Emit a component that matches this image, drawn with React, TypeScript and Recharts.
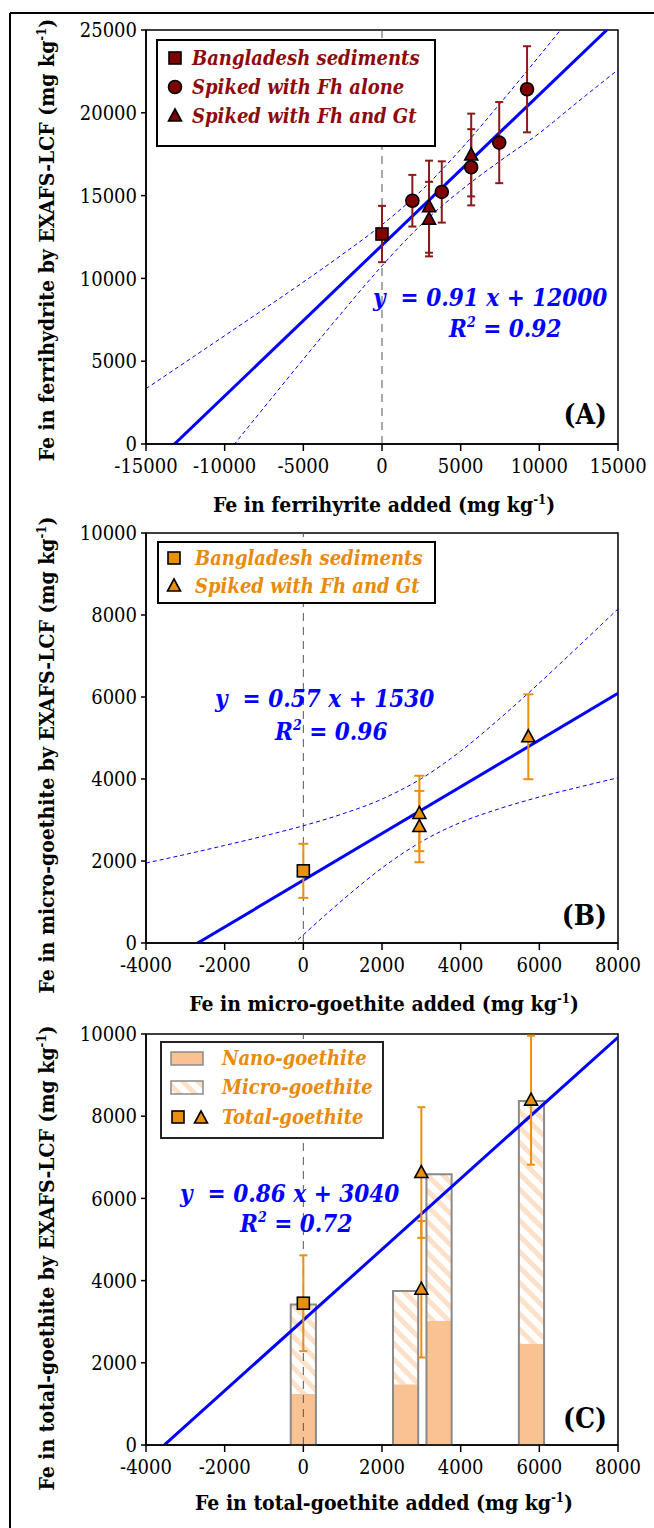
import React from 'react';
import {
  ComposedChart,
  XAxis,
  YAxis,
  Scatter,
  Line,
  ErrorBar,
  ReferenceLine,
  ReferenceArea,
} from 'recharts';

const SERIF = 'DejaVu Serif Condensed';

// ---------- Panel A: ferrihydrite ----------
const aXTicks = [-15000, -10000, -5000, 0, 5000, 10000, 15000];
const aYTicks = [0, 5000, 10000, 15000, 20000, 25000];
const aSedX = [0];
const aSedY = [12680];
const aSedErr = [1700];
const aFhX = [1930, 3800, 5670, 7450, 9220];
const aFhY = [14690, 15220, 16710, 18200, 21420];
const aFhErr = [1560, 1850, 2300, 2450, 2600];
const aFhGtX = [2990, 2990, 5670];
const aFhGtY = [14330, 13580, 17450];
const aFhGtErr = [2780, 2250, 2500];
const aSlope = 0.91;
const aIntercept = 12000;
const aBandX = [-15000, -12500, -10000, -7500, -5000, -2500, 0, 2500, 5000, 7500, 10000, 12500, 15000];
const aBandUpper = [3340, 4940, 6540, 8150, 9780, 11460, 13240, 15300, 17790, 20560, 23430, 26350, 29290];
const aBandLower = [-6640, -3690, -740, 2200, 5120, 7990, 10760, 13250, 15310, 17090, 18770, 20700, 22600];

// ---------- Panel B: micro-goethite ----------
const bXTicks = [-4000, -2000, 0, 2000, 4000, 6000, 8000];
const bYTicks = [0, 2000, 4000, 6000, 8000, 10000];
const bSedX = [0];
const bSedY = [1760];
const bSedErr = [660];
const bTriX = [2950, 2950, 5720];
const bTriY = [3160, 2840, 5030];
const bTriErr = [920, 870, 1035];
const bSlope = 0.57;
const bIntercept = 1530;
const bBandX = [-4000, -3000, -2000, -1000, 0, 1000, 2000, 3000, 4000, 5000, 6000, 7000, 8000];
const bBandUpper = [1950, 2160, 2380, 2610, 2860, 3150, 3510, 4010, 4680, 5480, 6340, 7240, 8150];
const bBandLower = [-3450, -2520, -1600, -690, 200, 1050, 1830, 2470, 2940, 3280, 3560, 3800, 4030];

// ---------- Panel C: total goethite ----------
const cXTicks = [-4000, -2000, 0, 2000, 4000, 6000, 8000];
const cYTicks = [0, 2000, 4000, 6000, 8000, 10000];
const cBarX = [0, 2600, 3450, 5800];
const cNano = [1250, 1480, 3020, 2460];
const cMicro = [2170, 2270, 3570, 5910];
const cSedX = [0];
const cSedY = [3450];
const cSedErr = [1165];
const cTriX = [3000, 3000, 5790];
const cTriY = [6630, 3790, 8390];
const cTriErr = [1590, 1660, 1570];
const cSlope = 0.86;
const cIntercept = 3040;

// half of a stacked column's width, in x-axis units
const C_BAR_HALF = 320;

// ---------- colours ----------
const DARK_RED = '#800000';
const DARK_RED_TEXT = '#8E0B0B';
const DARK_RED_ERR = '#8B1A1A';
const ORANGE = '#EB8F0E';
const ORANGE_TEXT = '#E98A0C';
const NANO_FILL = '#F8C292';
const HATCH = '#FDE0C8';
const BAR_EDGE = '#8A8A8A';
const BLUE = '#0000FF';

const pts = (xs: number[], ys: number[], errs?: number[]) =>
  xs.map((x, i) => ({ x, y: ys[i], err: errs ? errs[i] : 0 }));

const fitLine = (x0: number, x1: number, m: number, b: number) => [
  { x: x0, y: m * x0 + b },
  { x: x1, y: m * x1 + b },
];

const squareShape = (fill: string) => (p: any) =>
  p.cx == null ? <g /> : (
    <rect x={p.cx - 6} y={p.cy - 6} width={12} height={12} fill={fill} stroke="#000" strokeWidth={1.6} />
  );
const circleShape = (fill: string) => (p: any) =>
  p.cx == null ? <g /> : <circle cx={p.cx} cy={p.cy} r={6.5} fill={fill} stroke="#000" strokeWidth={1.6} />;
const triShape = (fill: string) => (p: any) =>
  p.cx == null ? (
    <g />
  ) : (
    <polygon
      points={`${p.cx},${p.cy - 7} ${p.cx + 6.5},${p.cy + 5} ${p.cx - 6.5},${p.cy + 5}`}
      fill={fill}
      stroke="#000"
      strokeWidth={1.6}
    />
  );

const tickStyle = { fontFamily: SERIF, fontSize: 20, fill: '#000' };
const axisLineStyle = { stroke: '#000', strokeWidth: 1.5 };

const W = 654;

function PanelA() {
  const upper = pts(aBandX, aBandUpper);
  const lower = pts(aBandX, aBandLower);
  return (
    <ComposedChart width={W} height={500} margin={{ top: 30, right: 36, left: 0, bottom: 6 }}>
      <XAxis type="number" dataKey="x" domain={[-15000, 15000]} ticks={aXTicks} interval={0}
        allowDataOverflow height={50} tickSize={7} tickMargin={8} tick={tickStyle}
        axisLine={axisLineStyle} tickLine={axisLineStyle} />
      <YAxis type="number" dataKey="y" domain={[0, 25000]} ticks={aYTicks} interval={0}
        allowDataOverflow width={146} tickSize={5} tickMargin={4} tick={tickStyle}
        axisLine={axisLineStyle} tickLine={axisLineStyle} />
      <ReferenceArea x1={-15000} x2={15000} y1={0} y2={25000} fill="none" stroke="#000" strokeWidth={1.5} />
      <ReferenceLine x={0} stroke="#555" strokeDasharray="8 6" strokeWidth={1} />
      <Line data={upper} dataKey="y" type="monotone" dot={false} stroke={BLUE} strokeWidth={1} strokeDasharray="4 3" isAnimationActive={false} />
      <Line data={lower} dataKey="y" type="monotone" dot={false} stroke={BLUE} strokeWidth={1} strokeDasharray="4 3" isAnimationActive={false} />
      <Line data={fitLine(-15000, 15000, aSlope, aIntercept)} dataKey="y" type="linear" dot={false} stroke={BLUE} strokeWidth={3} isAnimationActive={false} />
      <Scatter data={pts(aSedX, aSedY, aSedErr)} dataKey="y" shape={squareShape(DARK_RED)} isAnimationActive={false}>
        <ErrorBar dataKey="err" direction="y" width={4} stroke={DARK_RED_ERR} strokeWidth={2} />
      </Scatter>
      <Scatter data={pts(aFhX, aFhY, aFhErr)} dataKey="y" shape={circleShape(DARK_RED)} isAnimationActive={false}>
        <ErrorBar dataKey="err" direction="y" width={4} stroke={DARK_RED_ERR} strokeWidth={2} />
      </Scatter>
      <Scatter data={pts(aFhGtX, aFhGtY, aFhGtErr)} dataKey="y" shape={triShape(DARK_RED)} isAnimationActive={false}>
        <ErrorBar dataKey="err" direction="y" width={4} stroke={DARK_RED_ERR} strokeWidth={2} />
      </Scatter>
    </ComposedChart>
  );
}

function PanelB() {
  const upper = pts(bBandX, bBandUpper);
  const lower = pts(bBandX, bBandLower);
  return (
    <ComposedChart width={W} height={500} margin={{ top: 33, right: 36, left: 0, bottom: 7 }}>
      <XAxis type="number" dataKey="x" domain={[-4000, 8000]} ticks={bXTicks} interval={0}
        allowDataOverflow height={50} tickSize={7} tickMargin={8} tick={tickStyle}
        axisLine={axisLineStyle} tickLine={axisLineStyle} />
      <YAxis type="number" dataKey="y" domain={[0, 10000]} ticks={bYTicks} interval={0}
        allowDataOverflow width={146} tickSize={5} tickMargin={4} tick={tickStyle}
        axisLine={axisLineStyle} tickLine={axisLineStyle} />
      <ReferenceArea x1={-4000} x2={8000} y1={0} y2={10000} fill="none" stroke="#000" strokeWidth={1.5} />
      <ReferenceLine x={0} stroke="#555" strokeDasharray="8 6" strokeWidth={1} />
      <Line data={upper} dataKey="y" type="monotone" dot={false} stroke={BLUE} strokeWidth={1} strokeDasharray="4 3" isAnimationActive={false} />
      <Line data={lower} dataKey="y" type="monotone" dot={false} stroke={BLUE} strokeWidth={1} strokeDasharray="4 3" isAnimationActive={false} />
      <Line data={fitLine(-4000, 8000, bSlope, bIntercept)} dataKey="y" type="linear" dot={false} stroke={BLUE} strokeWidth={3} isAnimationActive={false} />
      <Scatter data={pts(bSedX, bSedY, bSedErr)} dataKey="y" shape={squareShape(ORANGE)} isAnimationActive={false}>
        <ErrorBar dataKey="err" direction="y" width={5} stroke={ORANGE} strokeWidth={2} />
      </Scatter>
      <Scatter data={pts(bTriX, bTriY, bTriErr)} dataKey="y" shape={triShape(ORANGE)} isAnimationActive={false}>
        <ErrorBar dataKey="err" direction="y" width={5} stroke={ORANGE} strokeWidth={2} />
      </Scatter>
    </ComposedChart>
  );
}

function PanelC() {
  return (
    <ComposedChart width={W} height={528} margin={{ top: 34, right: 36, left: 0, bottom: 33 }}>
      <defs>
        <pattern id="microHatch" width="11" height="11" patternUnits="userSpaceOnUse" patternTransform="rotate(-45)">
          <rect width="11" height="11" fill="#fff" />
          <rect width="5" height="11" fill={HATCH} />
        </pattern>
      </defs>
      <XAxis type="number" dataKey="x" domain={[-4000, 8000]} ticks={cXTicks} interval={0}
        allowDataOverflow height={50} tickSize={7} tickMargin={8} tick={tickStyle}
        axisLine={axisLineStyle} tickLine={axisLineStyle} />
      <YAxis type="number" dataKey="y" domain={[0, 10000]} ticks={cYTicks} interval={0}
        allowDataOverflow width={146} tickSize={5} tickMargin={4} tick={tickStyle}
        axisLine={axisLineStyle} tickLine={axisLineStyle} />
      <ReferenceArea x1={-4000} x2={8000} y1={0} y2={10000} fill="none" stroke="#000" strokeWidth={1.5} />
      {/* stacked columns: nano-goethite at the base, micro-goethite hatched above, one grey outline */}
      {cBarX.map((x, i) => (
        <ReferenceArea key={`n${i}`} x1={x - C_BAR_HALF} x2={x + C_BAR_HALF} y1={0} y2={cNano[i]}
          fill={NANO_FILL} fillOpacity={1} stroke="none" />
      ))}
      {cBarX.map((x, i) => (
        <ReferenceArea key={`m${i}`} x1={x - C_BAR_HALF} x2={x + C_BAR_HALF} y1={cNano[i]} y2={cNano[i] + cMicro[i]}
          fill="url(#microHatch)" fillOpacity={1} stroke="none" />
      ))}
      {cBarX.map((x, i) => (
        <ReferenceArea key={`o${i}`} x1={x - C_BAR_HALF} x2={x + C_BAR_HALF} y1={0} y2={cNano[i] + cMicro[i]}
          fill="none" stroke={BAR_EDGE} strokeWidth={2} />
      ))}
      <ReferenceLine x={0} stroke="#555" strokeDasharray="8 6" strokeWidth={1} />
      <Line data={fitLine(-4000, 8000, cSlope, cIntercept)} dataKey="y" type="linear" dot={false} stroke={BLUE} strokeWidth={3} isAnimationActive={false} />
      <Scatter data={pts(cSedX, cSedY, cSedErr)} dataKey="y" shape={squareShape(ORANGE)} isAnimationActive={false}>
        <ErrorBar dataKey="err" direction="y" width={4} stroke={ORANGE} strokeWidth={2} />
      </Scatter>
      <Scatter data={pts(cTriX, cTriY, cTriErr)} dataKey="y" shape={triShape(ORANGE)} isAnimationActive={false}>
        <ErrorBar dataKey="err" direction="y" width={4} stroke={ORANGE} strokeWidth={2} />
      </Scatter>
    </ComposedChart>
  );
}

const sup = (s: string, fs: number, rise: number) => (
  <>
    <tspan dy={-rise} fontSize={fs}>{s}</tspan>
    <tspan dy={rise}>{')'}</tspan>
  </>
);

function YTitle({ cx, cy, text }: { cx: number; cy: number; text: string }) {
  return (
    <text transform={`translate(${cx},${cy}) rotate(-90)`} textAnchor="middle"
      fontFamily={SERIF} fontWeight="bold" fontSize={21} fill="#000">
      {text} (mg kg{sup('-1', 13, 8)}
    </text>
  );
}

function XTitle({ cx, y, text }: { cx: number; y: number; text: string }) {
  return (
    <text x={cx} y={y} textAnchor="middle" fontFamily={SERIF} fontWeight="bold" fontSize={21} fill="#000">
      {text} (mg kg{sup('-1', 13, 8)}
    </text>
  );
}

function Equation({ x1, y1, x2, y2, eq, r2 }: { x1: number; y1: number; x2: number; y2: number; eq: string; r2: string }) {
  const st = { whiteSpace: 'pre' } as any;
  return (
    <g fontFamily={SERIF} fontWeight="bold" fontStyle="italic" fontSize={24} fill={BLUE}>
      <text x={x1} y={y1} style={st}>{eq}</text>
      <text x={x2} y={y2} style={st}>
        R<tspan dy={-10} fontSize={14}>2</tspan>
        <tspan dy={10}>{' = ' + r2}</tspan>
      </text>
    </g>
  );
}

function LegendText({ x, y, color, children }: { x: number; y: number; color: string; children: React.ReactNode }) {
  return (
    <text x={x} y={y} fill={color} fontFamily={SERIF} fontWeight="bold" fontStyle="italic" fontSize={20}>
      {children}
    </text>
  );
}

function Overlay() {
  const sqA = squareShape(DARK_RED);
  const ciA = circleShape(DARK_RED);
  const trA = triShape(DARK_RED);
  const sqO = squareShape(ORANGE);
  const trO = triShape(ORANGE);
  return (
    <svg width={W} height={1528} style={{ position: 'absolute', left: 0, top: 0, pointerEvents: 'none' }}>
      {/* outer frame */}
      <line x1={10} y1={13} x2={10} y2={1528} stroke="#000" strokeWidth={2} />
      <line x1={10} y1={13} x2={654} y2={13} stroke="#000" strokeWidth={2} />

      {/* axis titles */}
      <YTitle cx={54} cy={240} text="Fe in ferrihydrite by EXAFS-LCF" />
      <YTitle cx={54} cy={755} text="Fe in micro-goethite by EXAFS-LCF" />
      <YTitle cx={54} cy={1258} text="Fe in total-goethite by EXAFS-LCF" />
      <XTitle cx={384} y={512} text="Fe in ferrihyrite added" />
      <XTitle cx={384} y={1011} text="Fe in micro-goethite added" />
      <XTitle cx={384} y={1510} text="Fe in total-goethite added" />

      {/* regression equations */}
      <Equation x1={373} y1={306} x2={449} y2={337} eq="y  = 0.91 x + 12000" r2="0.92" />
      <Equation x1={215} y1={707} x2={275} y2={740} eq="y  = 0.57 x + 1530" r2="0.96" />
      <Equation x1={180} y1={1202} x2={240} y2={1232} eq="y  = 0.86 x + 3040" r2="0.72" />

      {/* panel letters */}
      {[
        ['(A)', 424],
        ['(B)', 925],
        ['(C)', 1428],
      ].map(([t, y]) => (
        <text key={t as string} x={607} y={y as number} textAnchor="end" fill="#000"
          fontFamily={SERIF} fontWeight="bold" fontSize={28}>
          {t}
        </text>
      ))}

      {/* legend A */}
      <rect x={157} y={40} width={278} height={106} fill="#fff" stroke="#000" strokeWidth={2} />
      {sqA({ cx: 175, cy: 58 })}
      {ciA({ cx: 175, cy: 87 })}
      {trA({ cx: 175, cy: 116 })}
      <LegendText x={192} y={65} color={DARK_RED_TEXT}>Bangladesh sediments</LegendText>
      <LegendText x={192} y={94} color={DARK_RED_TEXT}>Spiked with Fh alone</LegendText>
      <LegendText x={192} y={123} color={DARK_RED_TEXT}>Spiked with Fh and Gt</LegendText>

      {/* legend B */}
      <rect x={158} y={542} width={277} height={61} fill="#fff" stroke="#000" strokeWidth={2} />
      {sqO({ cx: 174, cy: 558 })}
      {trO({ cx: 174, cy: 586 })}
      <LegendText x={195} y={565} color={ORANGE_TEXT}>Bangladesh sediments</LegendText>
      <LegendText x={195} y={593} color={ORANGE_TEXT}>Spiked with Fh and Gt</LegendText>

      {/* legend C */}
      <defs>
        <pattern id="legendHatch" width="11" height="11" patternUnits="userSpaceOnUse" patternTransform="rotate(-45)">
          <rect width="11" height="11" fill="#fff" />
          <rect width="5" height="11" fill={HATCH} />
        </pattern>
      </defs>
      <rect x={161} y={1042} width={222} height={96} fill="#fff" stroke="#222" strokeWidth={2} />
      <rect x={171} y={1052} width={32} height={13} fill={NANO_FILL} stroke={BAR_EDGE} strokeWidth={1.5} />
      <rect x={171} y={1081} width={32} height={13} fill="url(#legendHatch)" stroke={BAR_EDGE} strokeWidth={1.5} />
      {sqO({ cx: 178, cy: 1117 })}
      {trO({ cx: 201, cy: 1118 })}
      <LegendText x={222} y={1065} color={ORANGE_TEXT}>Nano-goethite</LegendText>
      <LegendText x={222} y={1094} color={ORANGE_TEXT}>Micro-goethite</LegendText>
      <LegendText x={222} y={1124} color={ORANGE_TEXT}>Total-goethite</LegendText>
    </svg>
  );
}

export default function App() {
  return (
    <div style={{ position: 'absolute', left: 0, top: 0, width: W, height: 1528, background: '#fff', overflow: 'hidden' }}>
      <div style={{ position: 'absolute', left: 0, top: 0 }}>
        <PanelA />
      </div>
      <div style={{ position: 'absolute', left: 0, top: 500 }}>
        <PanelB />
      </div>
      <div style={{ position: 'absolute', left: 0, top: 1000 }}>
        <PanelC />
      </div>
      <Overlay />
    </div>
  );
}
